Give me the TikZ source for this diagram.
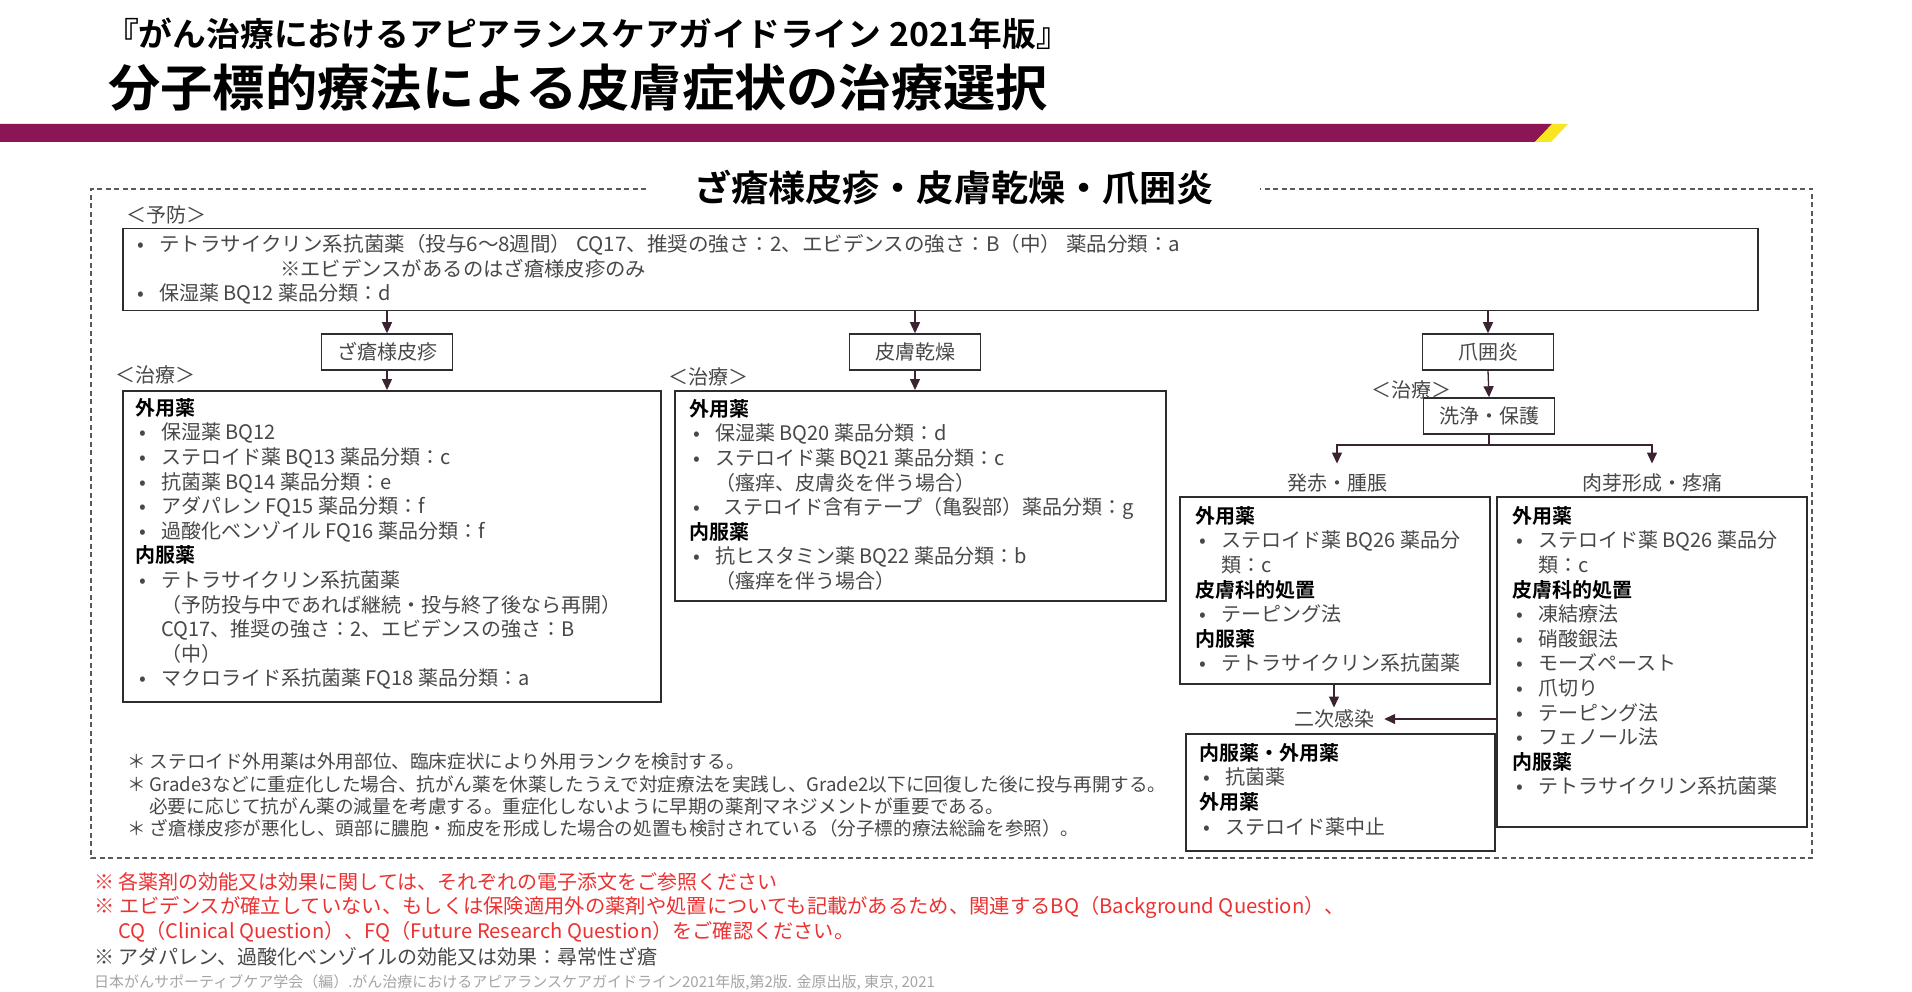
\documentclass[tikz,border=0pt]{standalone}
\usepackage{fontspec}
\usepackage{graphicx}
\usetikzlibrary{arrows.meta}
\setmainfont{Noto Sans CJK JP}[BoldFont={Noto Sans CJK JP Bold}]
\definecolor{txt}{RGB}{72,72,72}
\definecolor{barc}{RGB}{139,21,85}
\definecolor{ylw}{RGB}{250,230,30}
\definecolor{arrc}{RGB}{60,35,50}
\definecolor{boxc}{RGB}{45,45,45}
\definecolor{rednote}{RGB}{235,50,50}
\definecolor{citec}{RGB}{165,165,165}
\definecolor{dashc}{RGB}{90,90,90}
\newcommand{\hd}[1]{{\bfseries\color{black}#1}}
\newcommand{\bi}[1]{\hspace*{4pt}\makebox[22pt][l]{•}#1}
\newcommand{\ct}[1]{\hspace*{26pt}#1}
\newcommand{\fitw}[2]{\resizebox{#1}{\height}{#2}}
\tikzset{
  box/.style={draw=boxc, line width=1.5pt, inner sep=0pt, anchor=north west},
  lbl/.style={draw=boxc, line width=1.5pt, minimum width=131pt, minimum height=36pt, inner sep=0pt, font=\fontsize{20}{24}\selectfont, text=txt},
  body/.style={anchor=north west, inner sep=0pt, align=left, font=\fontsize{20}{24.6}\selectfont, text=txt},
  plain/.style={inner sep=0pt, text=txt, font=\fontsize{20}{24}\selectfont},
  note/.style={inner sep=0pt, anchor=west, text=txt, font=\fontsize{18.6}{22}\selectfont},
  rnote/.style={inner sep=0pt, anchor=west, text=rednote, font=\fontsize{20}{24}\selectfont},
  arr/.style={draw=arrc, line width=1.3pt, -{Triangle[width=10pt,length=11pt]}},
  ln/.style={draw=arrc, line width=1.3pt},
  dashbox/.style={draw=dashc, line width=1.2pt, dash pattern=on 5pt off 3.5pt},
}
\begin{document}
\begin{tikzpicture}[x=1pt,y=-1pt]
\useasboundingbox (0,0) rectangle (1912,992);
\fill[white] (0,0) rectangle (1912,992);
% header
\node[anchor=west, inner sep=0pt, font=\fontsize{33}{36}\selectfont\bfseries] (t1) at (105,34) {\fitw{965pt}{『がん治療におけるアピアランスケアガイドライン 2021年版』}};
\node[anchor=west, inner sep=0pt, font=\fontsize{50}{56}\selectfont\bfseries] (t2) at (108,88) {\fitw{940pt}{分子標的療法による皮膚症状の治療選択}};
\fill[barc] (0,124) -- (1552,124) -- (1535,142) -- (0,142) -- cycle;
\fill[ylw] (1552,124) -- (1568,124) -- (1551,142) -- (1535,142) -- cycle;
% frame
\node[inner sep=0pt, font=\fontsize{36}{40}\selectfont\bfseries] (hdg) at (954,187) {\fitw{520pt}{ざ瘡様皮疹・皮膚乾燥・爪囲炎}};
\draw[dashbox] (646,189) -- (91,189) -- (91,858) -- (1812,858) -- (1812,189) -- (1260,189);
% prevention
\node[plain, anchor=west] (plab) at (126,215) {＜予防＞};
\node[box, minimum width=1635pt, minimum height=82pt] (prev) at (122,228) {};
\node[plain, anchor=west] (p1) at (133,245) {\bi{\fitw{1021pt}{テトラサイクリン系抗菌薬（投与6〜8週間） CQ17、推奨の強さ：2、エビデンスの強さ：B（中） 薬品分類：a}}};
\node[plain, anchor=west] (p2) at (280,269) {\fitw{366pt}{※エビデンスがあるのはざ瘡様皮疹のみ}};
\node[plain, anchor=west] (p3) at (133,294) {\bi{保湿薬 BQ12 薬品分類：d}};
% category boxes
\node[lbl] (acne) at (387,352) {ざ瘡様皮疹};
\node[lbl] (dry) at (915,352) {皮膚乾燥};
\node[lbl] (nail) at (1488,352) {爪囲炎};
\node[lbl] (wash) at (1489,416) {洗浄・保護};
\node[plain] (tl1) at (155,375) {＜治療＞};
\node[plain] (tl2) at (708,377) {＜治療＞};
\node[plain] (tl3) at (1411,390) {＜治療＞};
% treatment boxes
\node[box, minimum width=538pt, minimum height=311pt] (lbox) at (122,390) {};
\node[box, minimum width=491pt, minimum height=210pt] (mbox) at (674,390) {};
\node[box, minimum width=310pt, minimum height=187pt] (rbox) at (1179,496) {};
\node[box, minimum width=310pt, minimum height=330pt] (gbox) at (1496,496) {};
\node[box, minimum width=309pt, minimum height=117pt] (sbox) at (1185,733) {};
\node[body] (ltxt) at (135,398) {\hd{外用薬}\\
\bi{保湿薬 BQ12}\\
\bi{ステロイド薬 BQ13 薬品分類：c}\\
\bi{抗菌薬 BQ14 薬品分類：e}\\
\bi{アダパレン FQ15 薬品分類：f}\\
\bi{過酸化ベンゾイル FQ16 薬品分類：f}\\
\hd{内服薬}\\
\bi{テトラサイクリン系抗菌薬}\\
\ct{（予防投与中であれば継続・投与終了後なら再開）}\\
\ct{CQ17、推奨の強さ：2、エビデンスの強さ：B}\\
\ct{（中）}\\
\bi{マクロライド系抗菌薬 FQ18 薬品分類：a}};
\node[body] (mtxt) at (689,399) {\hd{外用薬}\\
\bi{保湿薬 BQ20 薬品分類：d}\\
\bi{ステロイド薬 BQ21 薬品分類：c}\\
\ct{（瘙痒、皮膚炎を伴う場合）}\\
\bi{\hspace*{8pt}ステロイド含有テープ（亀裂部）薬品分類：g}\\
\hd{内服薬}\\
\bi{抗ヒスタミン薬 BQ22 薬品分類：b}\\
\ct{（瘙痒を伴う場合）}};
\node[body] (rtxt) at (1195,506) {\hd{外用薬}\\
\bi{ステロイド薬 BQ26 薬品分}\\
\ct{類：c}\\
\hd{皮膚科的処置}\\
\bi{テーピング法}\\
\hd{内服薬}\\
\bi{テトラサイクリン系抗菌薬}};
\node[body] (gtxt) at (1512,506) {\hd{外用薬}\\
\bi{ステロイド薬 BQ26 薬品分}\\
\ct{類：c}\\
\hd{皮膚科的処置}\\
\bi{凍結療法}\\
\bi{硝酸銀法}\\
\bi{モーズペースト}\\
\bi{爪切り}\\
\bi{テーピング法}\\
\bi{フェノール法}\\
\hd{内服薬}\\
\bi{テトラサイクリン系抗菌薬}};
\node[body] (stxt) at (1199,743) {\hd{内服薬・外用薬}\\
\bi{抗菌薬}\\
\hd{外用薬}\\
\bi{ステロイド薬中止}};
% branch labels
\node[plain, inner ysep=10pt] (redl) at (1337,483) {発赤・腫脹};
\node[plain, inner ysep=10pt] (granl) at (1652,483) {肉芽形成・疼痛};
\node[plain, inner xsep=10pt, inner ysep=2pt] (secl) at (1334,719) {二次感染};
\coordinate (br) at (1489,445);
% connectors
\draw[arr] (prev.south -| acne) -- (acne.north);
\draw[arr] (prev.south -| dry) -- (dry.north);
\draw[arr] (prev.south -| nail) -- (nail.north);
\draw[arr] (acne.south) -- (acne.south |- lbox.north);
\draw[arr] (dry.south) -- (dry.south |- mbox.north);
\draw[arr] (nail.south) -- (wash.north);
\draw[ln] (wash.south) -- (br);
\draw[arr] (br) -| (redl.north);
\draw[arr] (br) -| (granl.north);
\draw[arr] (rbox.south -| secl) -- (secl.north);
\draw[arr] (gbox.west |- secl) -- (secl.east);
% notes
\node[note] (n1) at (127,761) {＊ ステロイド外用薬は外用部位、臨床症状により外用ランクを検討する。};
\node[note] (n2) at (127,784) {＊ Grade3などに重症化した場合、抗がん薬を休薬したうえで対症療法を実践し、Grade2以下に回復した後に投与再開する。};
\node[note] (n3) at (149,806) {必要に応じて抗がん薬の減量を考慮する。重症化しないように早期の薬剤マネジメントが重要である。};
\node[note] (n4) at (127,828) {＊ ざ瘡様皮疹が悪化し、頭部に膿胞・痂皮を形成した場合の処置も検討されている（分子標的療法総論を参照）。};
\node[rnote] (r1) at (94,882) {※ 各薬剤の効能又は効果に関しては、それぞれの電子添文をご参照ください};
\node[rnote] (r2) at (94,907) {\fitw{1251pt}{※ エビデンスが確立していない、もしくは保険適用外の薬剤や処置についても記載があるため、関連するBQ（Background Question）、}};
\node[rnote] (r3) at (118,932) {\fitw{736pt}{CQ（Clinical Question）、FQ（Future Research Question）をご確認ください。}};
\node[rnote, text=txt] (r4) at (94,957) {※ アダパレン、過酸化ベンゾイルの効能又は効果：尋常性ざ瘡};
\node[inner sep=0pt, anchor=west, text=citec, font=\fontsize{15}{18}\selectfont] (cite) at (94,982) {日本がんサポーティブケア学会（編）.がん治療におけるアピアランスケアガイドライン2021年版,第2版. 金原出版, 東京, 2021};
\end{tikzpicture}
\end{document}
